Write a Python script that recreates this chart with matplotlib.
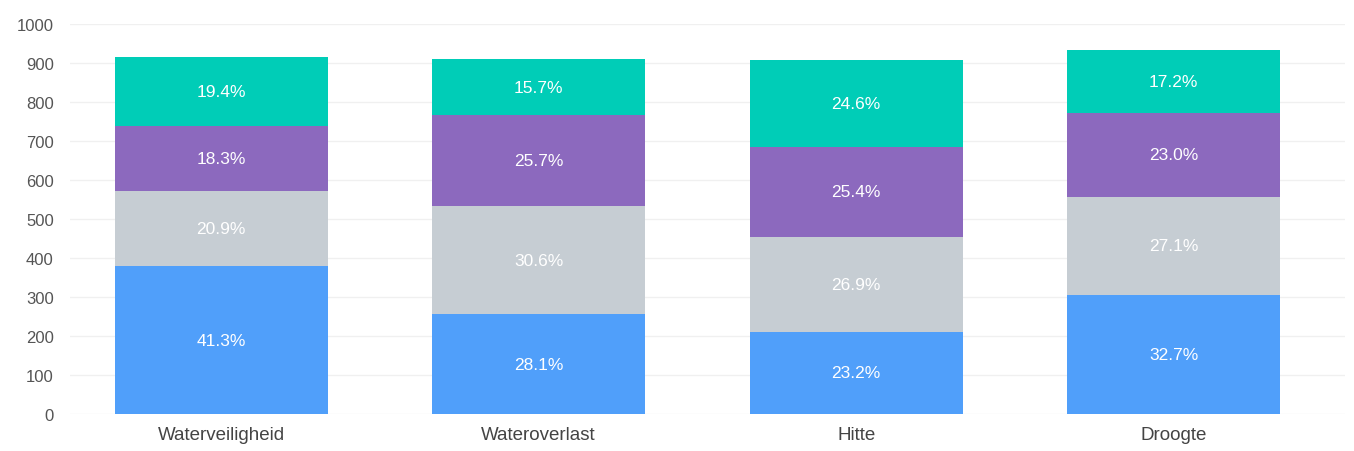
import numpy as np
import matplotlib
matplotlib.use("Agg")
import matplotlib.pyplot as plt

categories = ["Waterveiligheid", "Wateroverlast", "Hitte", "Droogte"]
totals = [917, 908, 906, 932]  # bar heights

# share per segment (bottom to top), in percent
pct_blue = [41.3, 28.1, 23.2, 32.7]
pct_grey = [20.9, 30.6, 26.9, 27.1]
pct_purple = [18.3, 25.7, 25.4, 23.0]
pct_teal = [19.4, 15.7, 24.6, 17.2]

series = [pct_blue, pct_grey, pct_purple, pct_teal]
colors = ["#509ffa", "#c6cdd3", "#8c69be", "#00cdb7"]

yticks = list(range(0, 1001, 100))

plt.rcParams["font.family"] = ["Liberation Sans", "DejaVu Sans"]

fig = plt.figure(figsize=(13.54, 4.52), dpi=100)
ax = fig.add_axes([0.052, 0.082, 0.941, 0.863])

x = np.arange(len(categories))
tot = np.array(totals, dtype=float)
bottom = np.zeros(len(categories))
for pct, col in zip(series, colors):
    h = tot * np.array(pct) / 100.0
    ax.bar(x, h, bottom=bottom, width=0.67, color=col, zorder=2)
    for xi, b, hi, p in zip(x, bottom, h, pct):
        ax.text(xi, b + hi / 2, f"{p:.1f}%", ha="center", va="center",
                color="white", fontsize=12.5, zorder=3)
    bottom += h

ax.set_xlim(-0.475, 3.538)
ax.set_ylim(0, 1000)
ax.set_yticks(yticks)
ax.set_xticks(x)
ax.set_xticklabels(categories, fontsize=13.5, color="#444444")
ax.tick_params(axis="y", labelsize=12, colors="#555555", length=0, pad=12)
ax.tick_params(axis="x", length=0, pad=9)
ax.yaxis.grid(True, color="#f0f0f0", linewidth=1, zorder=0)
for s in ax.spines.values():
    s.set_visible(False)

fig.savefig("out.png", dpi=100)
